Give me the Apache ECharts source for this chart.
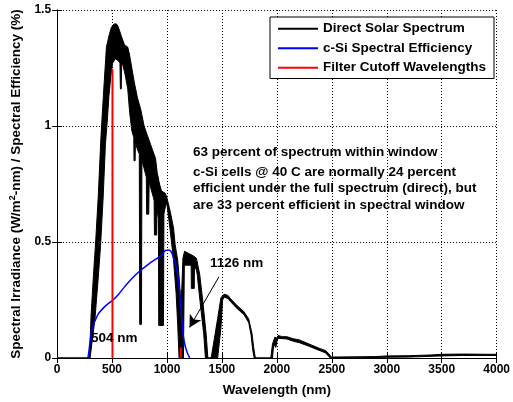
<!DOCTYPE html>
<html><head><meta charset="utf-8">
<script src="https://cdn.jsdelivr.net/npm/echarts@6/dist/echarts.min.js"></script>
<style>html,body{margin:0;padding:0;background:#fff}#c{width:513px;height:402px}</style>
</head><body><div id="c"></div>
<script>
// ---- data ----
const xTickValues = [0, 500, 1000, 1500, 2000, 2500, 3000, 3500, 4000];
const yTickValues = [0, 0.5, 1, 1.5];

// Direct solar spectrum: the noisy trace is drawn as the band between its upper and lower envelopes
const upperX = [0,295,310,330,351,375,399,411,429,449,473,494,518,540,554,569,583,613,643,658,702,732,762,792,821,851,896,911,932,950,985,1000,1030,1060,1074,1098,1110,1125,1135,1145,1160,1200,1240,1268,1298,1327,1357,1372,1402,1430,1461,1491,1520,1554,1580,1640,1700,1744,1774,1789,1804,1945,1960,1982,1997,2012,2050,2090,2150,2205,2295,2384,2443,2470,2495,2700,2900,3000,3200,3400,3500,3700,3900,4000];
const upperY = [0,0,0.19,0.35,0.5,0.70,0.95,1.05,1.19,1.34,1.39,1.425,1.44,1.44,1.43,1.41,1.39,1.35,1.34,1.31,1.19,1.12,1.07,1.0,0.96,0.92,0.86,0.8,0.75,0.72,0.71,0.69,0.63,0.56,0.49,0.42,0.35,0.25,0.3,0.43,0.46,0.45,0.44,0.43,0.36,0.24,0.1,0,0,0.08,0.17,0.26,0.275,0.27,0.255,0.225,0.2,0.168,0.105,0.045,0,0,0.06,0.09,0.085,0.097,0.092,0.092,0.083,0.078,0.06,0.042,0.032,0.02,0.004,0.005,0.006,0.009,0.01,0.013,0.016,0.017,0.016,0.016];
const lowerX = [0,300,345,372,395,418,440,458,472,490,505,530,560,572,576,584,588,600,620,643,660,680,698,700,710,713,730,748,752,768,772,790,812,815,834,838,860,883,886,906,909,922,925,968,972,990,1000,1027,1060,1083,1098,1110,1150,1158,1220,1222,1248,1250,1268,1275,1302,1335,1350,1461,1491,1506,1520,1554,1580,1640,1700,1744,1765,1780,1794,1960,1972,1990,2000,2012,2090,2150,2205,2295,2384,2443,2475,2490,2700,3000,3200,3500,3700,4000];
const lowerY = [0,0,0.17,0.33,0.48,0.68,0.92,1.03,1.13,1.22,1.27,1.29,1.28,1.27,1.16,1.16,1.27,1.26,1.22,1.16,1.06,0.98,0.95,0.85,0.85,0.93,0.9,0.88,0.145,0.145,0.85,0.82,0.78,0.62,0.62,0.76,0.72,0.68,0.53,0.53,0.64,0.6,0.14,0.14,0.62,0.665,0.66,0.56,0.42,0.28,0.14,0,0,0.4,0.4,0.3,0.3,0.39,0.38,0.36,0.24,0.1,0,0,0.13,0.25,0.262,0.257,0.242,0.212,0.187,0.152,0.1,0.035,0,0,0.06,0.045,0.07,0.085,0.082,0.072,0.066,0.05,0.033,0.022,0.005,0,0.001,0.003,0.004,0.009,0.011,0.011];

// c-Si spectral efficiency
const effX = [280,290,300,315,330,345,375,420,460,509,560,628,717,780,836,926,960,985,1000,1015,1030,1045,1060,1075,1089,1104,1119,1134,1149,1164,1179,1195,1208];
const effY = [0.0,0.03,0.07,0.12,0.145,0.16,0.19,0.215,0.232,0.25,0.275,0.315,0.36,0.385,0.406,0.435,0.45,0.463,0.465,0.466,0.462,0.452,0.43,0.41,0.38,0.335,0.264,0.17,0.094,0.055,0.03,0.012,0];

// filter cutoff wavelengths and their heights
const cutoffX = [504, 1126];
const cutoffTop = [1.245, 0.045];

// arrow annotation (data coordinates)
const arrowFrom = [1473, 0.35];
const arrowTo = [1205, 0.132];

const FONT = '"Liberation Sans", Arial, Helvetica, sans-serif';
const TFS = 13.5; // text font size
const chart = echarts.init(document.getElementById('c'), null, {renderer: 'canvas'});

const axisCommon = {
  type: 'value',
  axisLine: {show: true, lineStyle: {color: '#000', width: 1}},
  axisTick: {show: true, inside: true, length: 5, lineStyle: {color: '#000'}},
};

const series = [
  {
    type: 'custom', name: 'Direct Solar Spectrum', coordinateSystem: 'cartesian2d',
    data: [[0, 0]], encode: {x: 0, y: 1}, silent: true, z: 2,
    itemStyle: {color: '#000'},
    renderItem: function (params, api) {
      const pts = [];
      for (let i = 0; i < upperX.length; i++) pts.push(api.coord([upperX[i], upperY[i]]));
      for (let i = lowerX.length - 1; i >= 0; i--) pts.push(api.coord([lowerX[i], lowerY[i]]));
      return {type: 'polygon', shape: {points: pts}, style: {fill: '#000', stroke: '#000', lineWidth: 1}};
    }
  },
  {
    type: 'line', name: 'c-Si Spectral Efficiency', data: effX.map((x, i) => [x, effY[i]]),
    showSymbol: false, smooth: 0.3, z: 3, color: '#0000ff',
    lineStyle: {color: '#0000ff', width: 1.5}
  }
];
cutoffX.forEach((x, i) => {
  series.push({
    type: 'line', name: 'Filter Cutoff Wavelengths', data: [[x, 0], [x, cutoffTop[i]]],
    showSymbol: false, z: 4, color: '#ff0000', lineStyle: {color: '#ff0000', width: 2}
  });
});
series.push({
  type: 'line', name: 'arrow', data: [], silent: true, z: 5,
  markLine: {
    silent: true, symbol: ['none', 'arrow'], symbolSize: [10, 12], label: {show: false},
    lineStyle: {color: '#000', width: 1, type: 'solid'},
    data: [[{coord: arrowFrom}, {coord: arrowTo}]]
  }
});

const txt = (s, x, y) => ({type: 'text', x: x, y: y, z: 10,
  style: {text: s, fill: '#000', font: 'bold ' + TFS + 'px ' + FONT, verticalAlign: 'middle', align: 'left'}});

chart.setOption({
  animation: false,
  backgroundColor: '#fff',
  textStyle: {fontFamily: FONT},
  grid: {left: 53, right: 12, top: 10, bottom: 40, containLabel: false},
  xAxis: [
    Object.assign({}, axisCommon, {
      position: 'bottom', min: 0, max: 4000, interval: 500,
      name: 'Wavelength (nm)', nameLocation: 'middle', nameGap: 25,
      nameTextStyle: {color: '#000', fontWeight: 'bold', fontSize: TFS, fontFamily: FONT},
      axisLabel: {color: '#000', fontWeight: 'bold', fontSize: 12, fontFamily: FONT, margin: 6,
        formatter: v => String(v)},
      splitLine: {show: true, lineStyle: {type: [1, 2], color: '#000', width: 1}}
    }),
    Object.assign({}, axisCommon, {
      position: 'top', min: 0, max: 4000, interval: 500,
      axisLabel: {show: false}, splitLine: {show: false}
    })
  ],
  yAxis: [
    Object.assign({}, axisCommon, {
      position: 'left', min: 0, max: 1.5, interval: 0.5,
      name: '{a|Spectral Irradiance (W/m}{s|2}{a|-nm) / Spectral Efficiency (%)}',
      nameLocation: 'middle', nameGap: 32,
      nameTextStyle: {color: '#000', rich: {
        a: {fontWeight: 'bold', fontSize: TFS, fontFamily: FONT, color: '#000', lineHeight: 17},
        s: {fontWeight: 'bold', fontSize: 9, fontFamily: FONT, color: '#000', verticalAlign: 'top', lineHeight: 17}
      }},
      axisLabel: {color: '#000', fontWeight: 'bold', fontSize: 12, fontFamily: FONT, margin: 6},
      splitLine: {show: true, lineStyle: {type: [1, 2], color: '#000', width: 1}}
    }),
    Object.assign({}, axisCommon, {
      position: 'right', min: 0, max: 1.5, interval: 0.5,
      axisLabel: {show: false}, splitLine: {show: false}
    })
  ],
  legend: {
    orient: 'vertical', left: 270, top: 17, padding: [4, 8, 3, 8],
    itemWidth: 40, itemHeight: 2, itemGap: 4, icon: 'rect',
    backgroundColor: '#fff', borderColor: '#000', borderWidth: 1, borderRadius: 0,
    textStyle: {color: '#000', fontWeight: 'bold', fontSize: TFS, fontFamily: FONT, lineHeight: 15.5},
    data: ['Direct Solar Spectrum', 'c-Si Spectral Efficiency', 'Filter Cutoff Wavelengths'],
    selectedMode: false
  },
  graphic: [
    txt('504 nm', 91, 338),
    txt('1126 nm', 210, 263),
    txt('63 percent of spectrum within window', 193, 152),
    txt('c-Si cells @ 40 C are normally 24 percent', 193, 172),
    txt('efficient under the full spectrum (direct), but', 193, 188.5),
    txt('are 33 percent efficient in spectral window', 193, 205)
  ],
  series: series
});
</script>
</body></html>
